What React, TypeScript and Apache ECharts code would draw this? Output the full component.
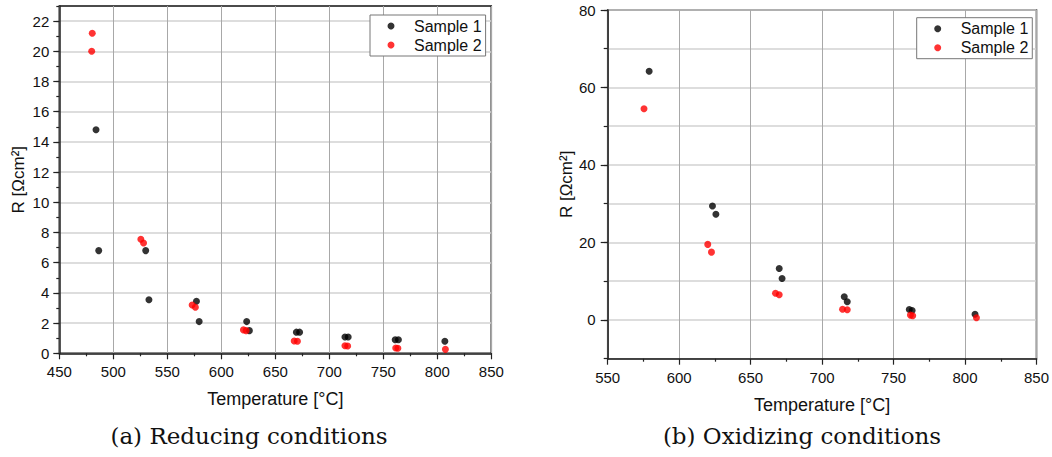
import React, { useEffect, useRef } from "react";
import * as echarts from "echarts";

// Reducing conditions: [temperature °C, R Ωcm²]
const reducingSample1: [number, number][] = [
  [484, 14.8], [486.5, 6.8], [530, 6.8], [533, 3.55], [577, 3.45], [579.5, 2.1],
  [623.5, 2.1], [626, 1.5], [669.5, 1.4], [672.5, 1.4], [714.5, 1.08], [717.5, 1.08],
  [761, 0.9], [764, 0.9], [807, 0.8],
];
const reducingSample2: [number, number][] = [
  [480.5, 21.2], [480, 20.0], [525.5, 7.55], [528, 7.3], [573, 3.2], [576, 3.05],
  [620.5, 1.55], [623, 1.5], [667.5, 0.82], [670.5, 0.8], [714.5, 0.5], [717, 0.48],
  [761.5, 0.35], [763.5, 0.33], [807.5, 0.26],
];
// Oxidizing conditions
const oxidizingSample1: [number, number][] = [
  [579, 64.2], [623.3, 29.4], [625.7, 27.3], [670, 13.3], [672, 10.7], [715.5, 6.0],
  [717.6, 4.7], [761, 2.7], [763, 2.45], [807, 1.45],
];
const oxidizingSample2: [number, number][] = [
  [575.4, 54.5], [620, 19.5], [622.6, 17.5], [667.4, 6.9], [670, 6.5], [714.3, 2.75],
  [717.6, 2.65], [761.8, 1.25], [763.4, 1.1], [808, 0.55],
];

const seriesNames = ["Sample 1", "Sample 2"];
const seriesColors = ["#000000", "#ff0000"];
const captions = ["(a) Reducing conditions", "(b) Oxidizing conditions"];
const xName = "Temperature [°C]";
const yName = "R [Ωcm²]";
const reducingMajorY = [0, 2, 4, 6, 8, 10, 12, 14, 16, 18, 20, 22];
const oxidizingMajorY = [0, 20, 40, 60, 80];

const FONT = "'Liberation Sans', Arial, sans-serif";

export default function App() {
  const ref = useRef<HTMLDivElement>(null);
  useEffect(() => {
    if (!ref.current) return;
    const chart = echarts.init(ref.current, undefined, { renderer: "svg" });

    const xAxisBase = (gridIndex: number, min: number) => ({
      type: "value",
      gridIndex,
      min,
      max: 850,
      interval: 50,
      name: xName,
      nameLocation: "middle",
      nameGap: 37,
      nameTextStyle: { fontFamily: FONT, fontSize: 18, color: "#111" },
      axisLine: { show: true, onZero: false, lineStyle: { color: "#222", width: 1.5 } },
      axisTick: { show: true, length: 6, lineStyle: { color: "#222", width: 1.2 } },
      minorTick: { show: true, splitNumber: 2, length: 3, lineStyle: { color: "#222", width: 1.2 } },
      axisLabel: { fontFamily: FONT, fontSize: 15, color: "#111", margin: 11 },
      splitLine: { show: true, lineStyle: { color: "#a8a8a8", width: 1 } },
    });

    const legendBase = (left: number, top: number) => ({
      left, top, orient: "vertical",
      data: seriesNames, icon: "circle", itemWidth: 7, itemHeight: 7, itemGap: 3,
      padding: [3, 4, 3, 17.5], borderColor: "#777", borderWidth: 1, backgroundColor: "#fff",
      textStyle: { fontFamily: FONT, fontSize: 16, color: "#111", padding: [0, 0, 0, 14.5] },
      selectedMode: false,
    });

    const option: any = {
      animation: false,
      grid: [
        { left: 59.3, top: 6, width: 432, height: 347.3, show: true, borderColor: "#111", borderWidth: 1.5, backgroundColor: "transparent" },
        { left: 607.7, top: 10, width: 432, height: 348.7, show: true, borderColor: "#111", borderWidth: 1.5, backgroundColor: "transparent" },
      ],
      xAxis: [xAxisBase(0, 450), xAxisBase(1, 550)],
      yAxis: [
        {
          type: "value",
          gridIndex: 0,
          min: 0,
          max: 23,
          interval: 1,
          name: yName,
          nameLocation: "middle",
          nameGap: 32,
          nameTextStyle: { fontFamily: FONT, fontSize: 17, color: "#111" },
          axisLine: { show: true, onZero: false, lineStyle: { color: "#222", width: 1.5 } },
          axisTick: { show: true, length: 3, lineStyle: { color: "#222", width: 1.2 } },
          axisLabel: {
            fontFamily: FONT, fontSize: 15, color: "#111", margin: 10,
            formatter: (v: number) => (reducingMajorY.includes(v) ? String(v) : ""),
          },
          splitLine: { show: true, lineStyle: { color: ["#d2d2d2", "transparent"], width: 1.5 } },
        },
        {
          type: "value",
          gridIndex: 0,
          min: 0,
          max: 23,
          position: "left",
          axisLine: { show: false },
          axisTick: { show: true, length: 6, customValues: reducingMajorY, lineStyle: { color: "#222", width: 1.2 } },
          axisLabel: { show: false },
          splitLine: { show: false },
        },
        {
          type: "value",
          gridIndex: 1,
          min: -10,
          max: 80,
          interval: 10,
          name: yName,
          nameLocation: "middle",
          nameGap: 33,
          nameTextStyle: { fontFamily: FONT, fontSize: 17, color: "#111" },
          axisLine: { show: true, onZero: false, lineStyle: { color: "#222", width: 1.5 } },
          axisTick: { show: true, length: 4, lineStyle: { color: "#222", width: 1.2 } },
          axisLabel: {
            fontFamily: FONT, fontSize: 15, color: "#111", margin: 12,
            formatter: (v: number) => (oxidizingMajorY.includes(v) ? String(v) : ""),
          },
          splitLine: { show: true, lineStyle: { color: "#d2d2d2", width: 1.5 } },
        },
        {
          type: "value",
          gridIndex: 1,
          min: -10,
          max: 80,
          position: "left",
          axisLine: { show: false },
          axisTick: { show: true, length: 7, customValues: oxidizingMajorY, lineStyle: { color: "#222", width: 1.2 } },
          axisLabel: { show: false },
          splitLine: { show: false },
        },
      ],
      legend: [legendBase(370, 15), legendBase(916.7, 17.7)],
      series: [
        { name: seriesNames[0], type: "scatter", xAxisIndex: 0, yAxisIndex: 0, data: reducingSample1, symbol: "circle", symbolSize: 7, itemStyle: { color: seriesColors[0] } },
        { name: seriesNames[1], type: "scatter", xAxisIndex: 0, yAxisIndex: 0, data: reducingSample2, symbol: "circle", symbolSize: 7, itemStyle: { color: seriesColors[1] } },
        { name: seriesNames[0], type: "scatter", xAxisIndex: 1, yAxisIndex: 2, data: oxidizingSample1, symbol: "circle", symbolSize: 7, itemStyle: { color: seriesColors[0] } },
        { name: seriesNames[1], type: "scatter", xAxisIndex: 1, yAxisIndex: 2, data: oxidizingSample2, symbol: "circle", symbolSize: 7, itemStyle: { color: seriesColors[1] } },
      ],
      graphic: [
        {
          type: "text", x: 249, y: 436,
          style: { text: captions[0], font: "23px 'DejaVu Serif', serif", fill: "#111", align: "center", verticalAlign: "middle" },
        },
        {
          type: "text", x: 802, y: 436,
          style: { text: captions[1], font: "23px 'DejaVu Serif', serif", fill: "#111", align: "center", verticalAlign: "middle" },
        },
      ],
    };
    chart.setOption(option);
    return () => chart.dispose();
  }, []);
  return <div ref={ref} style={{ position: "absolute", left: 0, top: 0, width: 1052, height: 457, background: "#fff" }} />;
}
